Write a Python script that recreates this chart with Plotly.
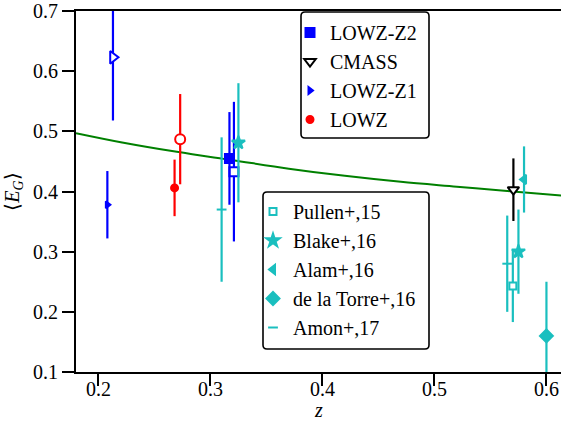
import plotly.graph_objects as go

# measurements: redshift, <E_G>, symmetric error
lowz_z1_z = [0.208]
lowz_z1_eg = [0.378]
lowz_z1_err = [0.056]

lowz_z1_alt_z = [0.213]
lowz_z1_alt_eg = [0.623]
lowz_z1_alt_err = [0.105]

lowz_z = [0.268]
lowz_eg = [0.406]
lowz_err = [0.047]

lowz_alt_z = [0.273]
lowz_alt_eg = [0.487]
lowz_alt_err = [0.075]

lowz_z2_z = [0.317]
lowz_z2_eg = [0.455]
lowz_z2_err = [0.077]

lowz_z2_alt_z = [0.321]
lowz_z2_alt_eg = [0.433]
lowz_z2_alt_err = [0.116]

cmass_z = [0.5705]
cmass_eg = [0.403]
cmass_err = [0.052]

pullen_z = [0.570]
pullen_eg = [0.243]
pullen_err = [0.060]

blake_z = [0.325, 0.575]
blake_eg = [0.481, 0.300]
blake_err = [0.099, 0.070]

alam_z = [0.580]
alam_eg = [0.420]
alam_err = [0.055]

delatorre_z = [0.600]
delatorre_eg = [0.160]
delatorre_err = [0.090]

amon_z = [0.310, 0.565]
amon_eg = [0.370, 0.280]
amon_err = [0.120, 0.080]

# GR prediction curve
model_z = [0.18, 0.22, 0.27, 0.32, 0.37, 0.42, 0.47, 0.52, 0.57, 0.615]
model_eg = [0.497, 0.482, 0.466, 0.452, 0.438, 0.426, 0.416, 0.408, 0.400, 0.393]

BLUE = "#0000FF"
RED = "#FF0000"
CYAN = "#1ABFBF"
GREEN = "#008000"
SERIF = "Liberation Serif"
FS = 20

fig = go.Figure()

fig.add_trace(go.Scatter(x=model_z, y=model_eg, mode="lines", line=dict(color=GREEN, width=2, shape="spline"),
                         showlegend=False, hoverinfo="skip"))


def pts(x, y, err, color, symbol, size, name=None, legend="legend", filled=True):
    fig.add_trace(go.Scatter(
        x=x, y=y, mode="markers", name=name, showlegend=name is not None, legend=legend,
        legendgroup=name,
        marker=dict(symbol=symbol, size=size, color=color if filled else "white",
                    line=dict(color=color, width=2)),
        error_y=dict(type="data", array=err, width=0, thickness=2.2, color=color),
    ))


# unnamed (open symbol) points
pts(lowz_z1_alt_z, lowz_z1_alt_eg, lowz_z1_alt_err, BLUE, "triangle-right", 11, filled=False)
pts(lowz_alt_z, lowz_alt_eg, lowz_alt_err, RED, "circle", 10, filled=False)
pts(lowz_z2_alt_z, lowz_z2_alt_eg, lowz_z2_alt_err, BLUE, "square", 9, filled=False)

# other surveys
pts(pullen_z, pullen_eg, pullen_err, CYAN, "square", 7, "Pullen+,15", "legend2", filled=False)
pts(blake_z, blake_eg, blake_err, CYAN, "star", 10, "Blake+,16", "legend2")
pts(alam_z, alam_eg, alam_err, CYAN, "triangle-left", 8, "Alam+,16", "legend2")
pts(delatorre_z, delatorre_eg, delatorre_err, CYAN, "diamond", 10, "de la Torre+,16", "legend2")
pts(amon_z, amon_eg, amon_err, CYAN, "line-ew", 7, "Amon+,17", "legend2")

# this work
pts(lowz_z2_z, lowz_z2_eg, lowz_z2_err, BLUE, "square", 9, "LOWZ-Z2")
pts(cmass_z, cmass_eg, cmass_err, "black", "triangle-down", 10, "CMASS", filled=False)
pts(lowz_z1_z, lowz_z1_eg, lowz_z1_err, BLUE, "triangle-right", 6, "LOWZ-Z1")
pts(lowz_z, lowz_eg, lowz_err, RED, "circle", 7, "LOWZ")

# plot area in pixels: x 76..561, y 11..372
W, H = 485.0, 361.0


def rounded_box(x0, y0, x1, y1, r=4):
    # pixel box -> paper path with rounded corners
    def px(v):
        return (v - 76) / W

    def py(v):
        return (372 - v) / H

    return (f"M {px(x0 + r)},{py(y0)} L {px(x1 - r)},{py(y0)} Q {px(x1)},{py(y0)} {px(x1)},{py(y0 + r)} "
            f"L {px(x1)},{py(y1 - r)} Q {px(x1)},{py(y1)} {px(x1 - r)},{py(y1)} "
            f"L {px(x0 + r)},{py(y1)} Q {px(x0)},{py(y1)} {px(x0)},{py(y1 - r)} "
            f"L {px(x0)},{py(y0 + r)} Q {px(x0)},{py(y0)} {px(x0 + r)},{py(y0)} Z")


shapes = [
    dict(type="path", xref="paper", yref="paper", path=rounded_box(301, 12, 429, 138),
         line=dict(color="black", width=1.6), fillcolor="white", layer="below"),
    dict(type="path", xref="paper", yref="paper", path=rounded_box(263, 192, 429, 349),
         line=dict(color="black", width=1.6), fillcolor="white", layer="below"),
]

axis_common = dict(showline=True, linecolor="black", linewidth=2, ticks="outside", ticklen=12,
                   tickwidth=1.5, tickcolor="black", showgrid=False, zeroline=False, automargin=False,
                   tickfont=dict(family=SERIF, size=FS, color="black"))

legend_common = dict(xanchor="left", yanchor="top", bgcolor="rgba(0,0,0,0)", borderwidth=0,
                     itemwidth=30, tracegroupgap=0, font=dict(family=SERIF, size=FS, color="black"))

fig.update_layout(
    width=561, height=423,
    margin=dict(l=76, r=0, t=11, b=51),
    plot_bgcolor="white", paper_bgcolor="white",
    font=dict(family=SERIF, color="black"),
    shapes=shapes,
    xaxis=dict(range=[0.18, 0.613], dtick=0.1, tick0=0.2, mirror=True, ticklabelstandoff=-14,
               **axis_common),
    yaxis=dict(range=[0.1, 0.7], dtick=0.1, tick0=0.1,
               title=dict(text="⟨<i>E</i><sub><i>G</i></sub>⟩", font=dict(family=SERIF, size=FS), standoff=8),
               **axis_common),
    legend=dict(x=(290 - 76) / W, y=(372 - 13) / H, **legend_common),
    legend2=dict(x=(253 - 76) / W, y=(372 - 192) / H, **legend_common),
    annotations=[dict(text="<i>z</i>", xref="paper", yref="paper", x=0.5, y=(372 - 410) / H,
                      xanchor="center", yanchor="middle", showarrow=False,
                      font=dict(family=SERIF, size=FS, color="black"))],
)

fig.write_html("out.html", post_script="document.body.style.margin='0';",
               config={"displayModeBar": False})
